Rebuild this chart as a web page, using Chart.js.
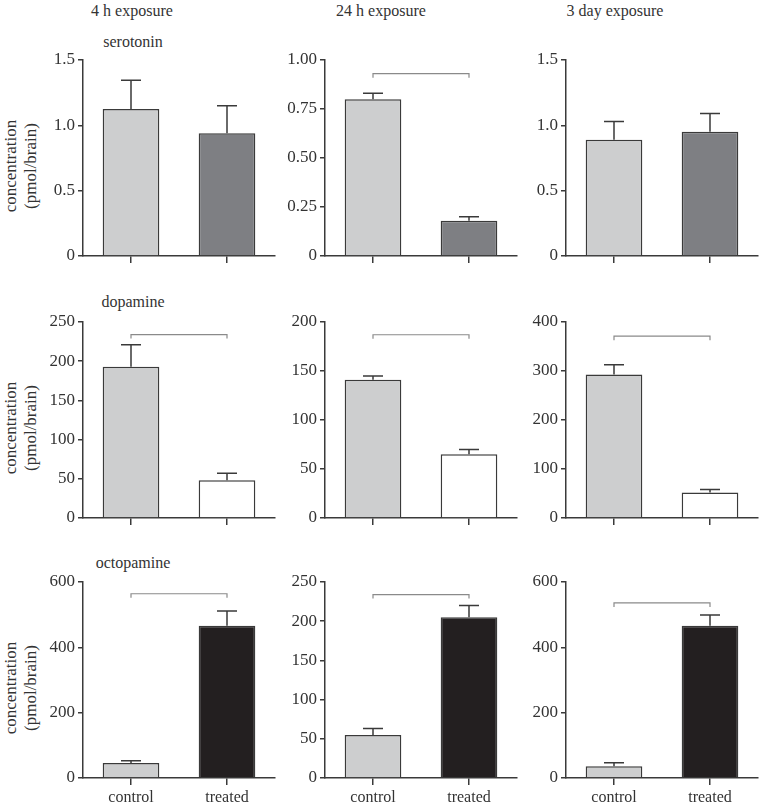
<!DOCTYPE html>
<html>
<head>
<meta charset="utf-8">
<script src="https://cdn.jsdelivr.net/npm/chart.js@4.4.1/dist/chart.umd.min.js"></script>
<style>
  body { margin: 0; background: #fff; }
  #wrap { position: relative; width: 760px; height: 808px; overflow: hidden;
          font-family: 'Liberation Serif', 'Times New Roman', serif; color: #333; }
  #wrap canvas { position: absolute; }
  .txt { position: absolute; font-size: 16px; line-height: 20px; white-space: nowrap; text-align: center; }
  .ytitle { position: absolute; width: 140px; height: 40px; font-size: 17px; line-height: 20px;
            text-align: center; transform: rotate(-90deg); white-space: nowrap; }
</style>
</head>
<body>
<div id="wrap"></div>
<script>
// categories
var groupLabels = ['control', 'treated'];
var exposureLabels = ['4 h exposure', '24 h exposure', '3 day exposure'];
var compoundLabels = ['serotonin', 'dopamine', 'octopamine'];

// means per exposure (4 h, 24 h, 3 day), each [control, treated]
var serotoninMean = [[1.125, 0.94], [0.80, 0.18], [0.89, 0.95]];
var serotoninErr = [[0.22, 0.21], [0.03, 0.02], [0.14, 0.14]];
var serotoninSig = [null, 0.93, null]; //bracket height, null = no bracket

var dopamineMean = [[193, 48], [141, 65], [293, 52]];
var dopamineErr = [[28, 9], [4, 5], [20, 6]];
var dopamineSig = [234, 187, 371];

var octopamineMean = [[46, 466], [55, 205], [36, 466]];
var octopamineErr = [[7, 45], [8, 15], [11, 33]];
var octopamineSig = [564, 234, 536];

// y ticks per panel
var serotoninTicks = [[0, 0.5, 1, 1.5], [0, 0.25, 0.5, 0.75, 1], [0, 0.5, 1, 1.5]];
var serotoninTickLabels = [['0', '0.5', '1.0', '1.5'], ['0', '0.25', '0.50', '0.75', '1.00'], ['0', '0.5', '1.0', '1.5']];
var dopamineTicks = [[0, 50, 100, 150, 200, 250], [0, 50, 100, 150, 200], [0, 100, 200, 300, 400]];
var dopamineTickLabels = [['0', '50', '100', '150', '200', '250'], ['0', '50', '100', '150', '200'], ['0', '100', '200', '300', '400']];
var octopamineTicks = [[0, 200, 400, 600], [0, 50, 100, 150, 200, 250], [0, 200, 400, 600]];
var octopamineTickLabels = [['0', '200', '400', '600'], ['0', '50', '100', '150', '200', '250'], ['0', '200', '400', '600']];

var controlColor = '#cdcecf';
var treatedColors = ['#7e7f83', '#ffffff', '#231f20'];
var inkColor = '#3a3a3a';
var fontFam = "'Liberation Serif', 'Times New Roman', serif";

var rows = [
  {mean: serotoninMean, err: serotoninErr, sig: serotoninSig, ticks: serotoninTicks, labels: serotoninTickLabels},
  {mean: dopamineMean, err: dopamineErr, sig: dopamineSig, ticks: dopamineTicks, labels: dopamineTickLabels},
  {mean: octopamineMean, err: octopamineErr, sig: octopamineSig, ticks: octopamineTicks, labels: octopamineTickLabels}
];

var axisX = [83, 325, 566];   // where each column's y axis sits
var plotTop = [60, 322, 582]; // top of each row's plot area
var plotH = 196;
var yAxisW = 60, padTop = 20, xAxisH = 30, canvasW = 254;

var wrap = document.getElementById('wrap');

function addText(cls, text, cx, cy, w, h) {
  var d = document.createElement('div');
  d.className = cls;
  d.innerHTML = text;
  d.style.width = w + 'px';
  d.style.height = h + 'px';
  d.style.left = (cx - w / 2) + 'px';
  d.style.top = (cy - h / 2) + 'px';
  wrap.appendChild(d);
}

// error bars + significance bracket
var errPlugin = {
  id: 'errBars',
  afterDatasetsDraw: function(chart) {
    var o = chart.options.plugins.errBars;
    var x = chart.scales.x, y = chart.scales.y;
    var ctx = chart.ctx;
    ctx.save();
    ctx.strokeStyle = inkColor;
    ctx.lineWidth = 1.5;
    for (var i = 0; i < o.mean.length; i++) {
      var px = x.getPixelForValue(i);
      var y0 = y.getPixelForValue(o.mean[i]);
      var y1 = y.getPixelForValue(o.mean[i] + o.err[i]);
      ctx.beginPath();
      ctx.moveTo(px, y0);
      ctx.lineTo(px, y1);
      ctx.moveTo(px - 10, y1);
      ctx.lineTo(px + 10, y1);
      ctx.stroke();
    }
    if (o.sig !== null) {
      var ys = y.getPixelForValue(o.sig);
      var xa = x.getPixelForValue(0), xb = x.getPixelForValue(1);
      ctx.strokeStyle = '#8a8a8a';
      ctx.lineWidth = 1.2;
      ctx.beginPath();
      ctx.moveTo(xa, ys + 4);
      ctx.lineTo(xa, ys);
      ctx.lineTo(xb, ys);
      ctx.lineTo(xb, ys + 4);
      ctx.stroke();
    }
    ctx.restore();
  }
};

function makePanel(r, c) {
  var row = rows[r];
  var cv = document.createElement('canvas');
  cv.style.left = (axisX[c] - yAxisW) + 'px';
  cv.style.top = (plotTop[r] - padTop) + 'px';
  cv.style.width = canvasW + 'px';
  cv.style.height = (padTop + plotH + xAxisH) + 'px';
  wrap.appendChild(cv);

  var tickVals = row.ticks[c];
  var tickLabs = row.labels[c];
  var showX = (r === 2);

  new Chart(cv, {
    type: 'bar',
    data: {
      labels: groupLabels,
      datasets: [{
        data: row.mean[c],
        backgroundColor: [controlColor, treatedColors[r]],
        borderColor: inkColor,
        borderWidth: 1.5,
        categoryPercentage: 1,
        barPercentage: 0.59
      }]
    },
    options: {
      responsive: false,
      animation: false,
      layout: {padding: {top: padTop, right: 2, left: 0, bottom: 0}},
      plugins: {
        legend: {display: false},
        tooltip: {enabled: false},
        errBars: {mean: row.mean[c], err: row.err[c], sig: row.sig[c]}
      },
      scales: {
        x: {
          offset: true,
          afterFit: function(s) { s.height = xAxisH; },
          grid: {offset: false, drawOnChartArea: false, drawTicks: true, tickLength: 7, color: inkColor, lineWidth: 1.5},
          border: {display: true, color: inkColor, width: 1.5},
          ticks: {
            color: '#333', padding: 3,
            font: {family: fontFam, size: 16},
            callback: function(v, i) { return showX ? groupLabels[i] : ''; }
          }
        },
        y: {
          min: tickVals[0],
          max: tickVals[tickVals.length - 1],
          afterFit: function(s) { s.width = yAxisW; },
          afterBuildTicks: function(s) {
            s.ticks = tickVals.map(function(v) { return {value: v}; });
          },
          grid: {drawOnChartArea: false, drawTicks: true, tickLength: 5, color: inkColor, lineWidth: 1.5},
          border: {display: true, color: inkColor, width: 1.5},
          ticks: {
            color: '#333', padding: 3,
            font: {family: fontFam, size: 17},
            callback: function(v, i) { return tickLabs[i]; }
          }
        }
      }
    },
    plugins: [errPlugin]
  });
}

var colTitleX = [132, 381, 615];
for (var c = 0; c < 3; c++) {
  addText('txt', exposureLabels[c], colTitleX[c], 11, 160, 20);
}
var rowTitleY = [42, 302, 563];
for (var r = 0; r < 3; r++) {
  addText('txt', compoundLabels[r], 133, rowTitleY[r], 140, 20);
  addText('ytitle', 'concentration<br>(pmol/brain)', 21, plotTop[r] + plotH / 2 + 8, 140, 40);
  for (var c = 0; c < 3; c++) {
    makePanel(r, c);
  }
}
</script>
</body>
</html>
